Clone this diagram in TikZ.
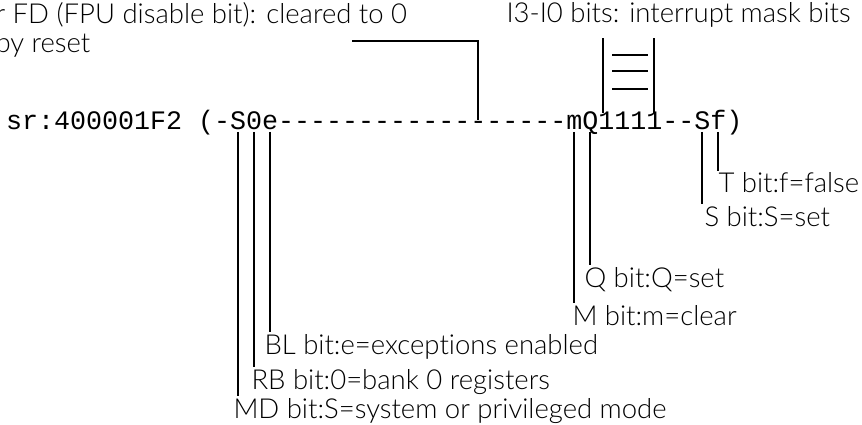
\documentclass[tikz,border=0pt]{standalone}
\usepackage{fontspec}
\setmainfont{Lato Light}[Ligatures=CommonOff]
\setmonofont{Liberation Mono}
\usetikzlibrary{calc}
\tikzset{
    bitlabel/.style={anchor=base west,inner sep=0pt,outer sep=1.5pt,font=\fontsize{27.5}{29}\selectfont},
    bitline/.style={line width=1.8pt},
    fdline/.style={line width=1.2pt},
}
\newcommand{\cellw}{16}

\begin{document}
\begin{tikzpicture}[x=1pt,y=-1pt]
\useasboundingbox (0,0) rectangle (862,425);
\node[anchor=base west,inner sep=0pt,font=\ttfamily\fontsize{26.67}{30}\selectfont] (reg) at (6,130) {sr:400001F2 (-S0e------------------mQ1111--Sf)};
\foreach \i in {14,15,16,29,35,36,37,40,43,44} {
    \coordinate (b\i) at ($(reg.base west)+({(\i+0.5)*\cellw},2)$);
    \coordinate (t\i) at ($(reg.base west)+({(\i+0.5)*\cellw},-10)$);
}
% labels
\node[bitlabel,align=left] (fdbit) at (-6,53) {r FD (FPU disable bit): cleared to 0\\by reset};
\node[bitlabel] (ibits) at (505,23) {I3-I0 bits: interrupt mask bits};
\node[bitlabel] (tbit) at (717,193) {T bit:f=false};
\node[bitlabel] (sbit) at (703,226) {S bit:S=set};
\node[bitlabel] (qbit) at (583,287) {Q bit:Q=set};
\node[bitlabel] (mbit) at (571,325) {M bit:m=clear};
\node[bitlabel] (blbit) at (263,354) {BL bit:e=exceptions enabled};
\node[bitlabel] (rbbit) at (250,389) {RB bit:0=bank 0 registers};
\node[bitlabel] (mdbit) at (232,418) {MD bit:S=system or privileged mode};
% connectors
\draw[bitline] (b14) -- (b14 |- mdbit.north);
\draw[bitline] (b15) -- (b15 |- rbbit.north);
\draw[bitline] (b16) -- (b16 |- blbit.north);
\draw[bitline] (b35) -- (b35 |- mbit.north);
\draw[bitline] (b36) -- (b36 |- qbit.north);
\draw[bitline] (b43) -- (b43 |- sbit.north);
\draw[bitline] (b44) -- (b44 |- tbit.north);
\coordinate (fdend) at (352,41);
\draw[fdline] (fdend) -| (t29);
\draw[bitline] ($(t37)+(-3,-7)$) coordinate (i3lo) -- ++(0,-75);
\draw[bitline] ($(t40)+(0,-7)$) coordinate (i0lo) -- ++(0,-75);
\foreach \yy in {24,42,58}
    \draw[bitline] ($(i3lo)+(9,-\yy)$) -- ($(i0lo)+(-6,-\yy)$);
\end{tikzpicture}
\end{document}
